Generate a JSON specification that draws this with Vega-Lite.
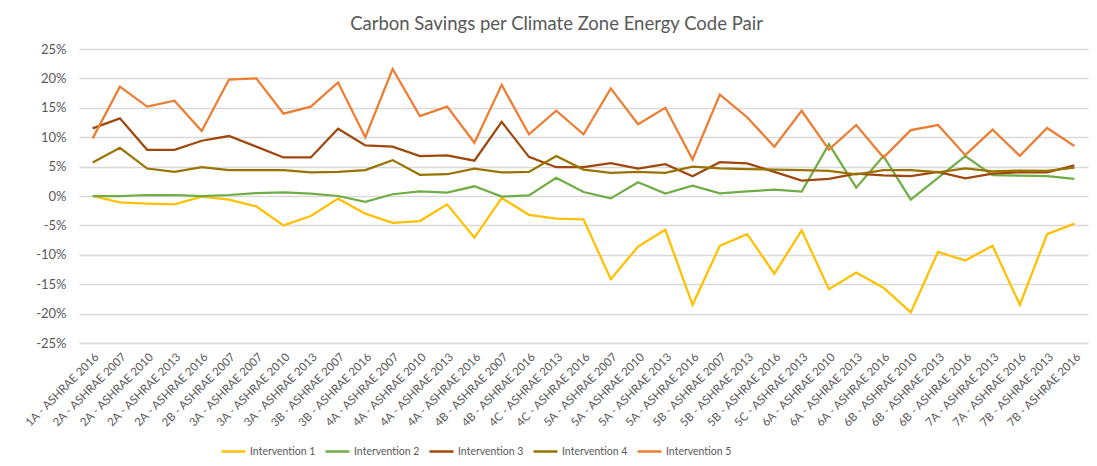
{
  "$schema": "https://vega.github.io/schema/vega-lite/v6.json",
  "width": 1009,
  "height": 294,
  "autosize": {"type": "none"},
  "padding": {"left": 79, "top": 49, "right": 9, "bottom": 123},
  "background": "white",
  "config": {"view": {"stroke": null}, "font": "Lato"},
  "title": {"text": "Carbon Savings per Climate Zone Energy Code Pair", "font": "Lato", "fontSize": 18.5, "fontWeight": "normal", "color": "#595959", "offset": 10, "dx": -27, "anchor": "middle"},
  "data": {"values": [
{"pair":"1A - ASHRAE 2016","series":"Intervention 1","value":0},
{"pair":"2A - ASHRAE 2007","series":"Intervention 1","value":-0.0108},
{"pair":"2A - ASHRAE 2010","series":"Intervention 1","value":-0.013},
{"pair":"2A - ASHRAE 2013","series":"Intervention 1","value":-0.0142},
{"pair":"2A - ASHRAE 2016","series":"Intervention 1","value":-0.001},
{"pair":"2B - ASHRAE 2007","series":"Intervention 1","value":-0.0063},
{"pair":"3A - ASHRAE 2007","series":"Intervention 1","value":-0.0176},
{"pair":"3A - ASHRAE 2010","series":"Intervention 1","value":-0.05},
{"pair":"3A - ASHRAE 2013","series":"Intervention 1","value":-0.034},
{"pair":"3B - ASHRAE 2007","series":"Intervention 1","value":-0.0045},
{"pair":"3B - ASHRAE 2016","series":"Intervention 1","value":-0.03},
{"pair":"4A - ASHRAE 2007","series":"Intervention 1","value":-0.0455},
{"pair":"4A - ASHRAE 2010","series":"Intervention 1","value":-0.0426},
{"pair":"4A - ASHRAE 2013","series":"Intervention 1","value":-0.0142},
{"pair":"4A - ASHRAE 2016","series":"Intervention 1","value":-0.071},
{"pair":"4B - ASHRAE 2007","series":"Intervention 1","value":-0.0034},
{"pair":"4B - ASHRAE 2016","series":"Intervention 1","value":-0.032},
{"pair":"4C - ASHRAE 2013","series":"Intervention 1","value":-0.0386},
{"pair":"4C - ASHRAE 2016","series":"Intervention 1","value":-0.0398},
{"pair":"5A - ASHRAE 2007","series":"Intervention 1","value":-0.1415},
{"pair":"5A - ASHRAE 2010","series":"Intervention 1","value":-0.086},
{"pair":"5A - ASHRAE 2013","series":"Intervention 1","value":-0.0574},
{"pair":"5A - ASHRAE 2016","series":"Intervention 1","value":-0.185},
{"pair":"5B - ASHRAE 2007","series":"Intervention 1","value":-0.0847},
{"pair":"5B - ASHRAE 2013","series":"Intervention 1","value":-0.065},
{"pair":"5B - ASHRAE 2016","series":"Intervention 1","value":-0.132},
{"pair":"5C - ASHRAE 2013","series":"Intervention 1","value":-0.0585},
{"pair":"6A - ASHRAE 2010","series":"Intervention 1","value":-0.1585},
{"pair":"6A - ASHRAE 2013","series":"Intervention 1","value":-0.13},
{"pair":"6A - ASHRAE 2016","series":"Intervention 1","value":-0.156},
{"pair":"6B - ASHRAE 2010","series":"Intervention 1","value":-0.198},
{"pair":"6B - ASHRAE 2013","series":"Intervention 1","value":-0.095},
{"pair":"6B - ASHRAE 2016","series":"Intervention 1","value":-0.1097},
{"pair":"7A - ASHRAE 2013","series":"Intervention 1","value":-0.0847},
{"pair":"7A - ASHRAE 2016","series":"Intervention 1","value":-0.185},
{"pair":"7B - ASHRAE 2013","series":"Intervention 1","value":-0.065},
{"pair":"7B - ASHRAE 2016","series":"Intervention 1","value":-0.047},
{"pair":"1A - ASHRAE 2016","series":"Intervention 2","value":0},
{"pair":"2A - ASHRAE 2007","series":"Intervention 2","value":0},
{"pair":"2A - ASHRAE 2010","series":"Intervention 2","value":0.0017},
{"pair":"2A - ASHRAE 2013","series":"Intervention 2","value":0.0017},
{"pair":"2A - ASHRAE 2016","series":"Intervention 2","value":0},
{"pair":"2B - ASHRAE 2007","series":"Intervention 2","value":0.0017},
{"pair":"3A - ASHRAE 2007","series":"Intervention 2","value":0.005},
{"pair":"3A - ASHRAE 2010","series":"Intervention 2","value":0.0063},
{"pair":"3A - ASHRAE 2013","series":"Intervention 2","value":0.004},
{"pair":"3B - ASHRAE 2007","series":"Intervention 2","value":0},
{"pair":"3B - ASHRAE 2016","series":"Intervention 2","value":-0.01},
{"pair":"4A - ASHRAE 2007","series":"Intervention 2","value":0.003},
{"pair":"4A - ASHRAE 2010","series":"Intervention 2","value":0.008},
{"pair":"4A - ASHRAE 2013","series":"Intervention 2","value":0.0057},
{"pair":"4A - ASHRAE 2016","series":"Intervention 2","value":0.0165},
{"pair":"4B - ASHRAE 2007","series":"Intervention 2","value":-0.001},
{"pair":"4B - ASHRAE 2016","series":"Intervention 2","value":0.001},
{"pair":"4C - ASHRAE 2013","series":"Intervention 2","value":0.031},
{"pair":"4C - ASHRAE 2016","series":"Intervention 2","value":0.0068},
{"pair":"5A - ASHRAE 2007","series":"Intervention 2","value":-0.004},
{"pair":"5A - ASHRAE 2010","series":"Intervention 2","value":0.0233},
{"pair":"5A - ASHRAE 2013","series":"Intervention 2","value":0.004},
{"pair":"5A - ASHRAE 2016","series":"Intervention 2","value":0.0177},
{"pair":"5B - ASHRAE 2007","series":"Intervention 2","value":0.0046},
{"pair":"5B - ASHRAE 2013","series":"Intervention 2","value":0.008},
{"pair":"5B - ASHRAE 2016","series":"Intervention 2","value":0.0108},
{"pair":"5C - ASHRAE 2013","series":"Intervention 2","value":0.0074},
{"pair":"6A - ASHRAE 2010","series":"Intervention 2","value":0.0883},
{"pair":"6A - ASHRAE 2013","series":"Intervention 2","value":0.0142},
{"pair":"6A - ASHRAE 2016","series":"Intervention 2","value":0.0678},
{"pair":"6B - ASHRAE 2010","series":"Intervention 2","value":-0.0063},
{"pair":"6B - ASHRAE 2013","series":"Intervention 2","value":0.031},
{"pair":"6B - ASHRAE 2016","series":"Intervention 2","value":0.0678},
{"pair":"7A - ASHRAE 2013","series":"Intervention 2","value":0.0353},
{"pair":"7A - ASHRAE 2016","series":"Intervention 2","value":0.0347},
{"pair":"7B - ASHRAE 2013","series":"Intervention 2","value":0.0336},
{"pair":"7B - ASHRAE 2016","series":"Intervention 2","value":0.029},
{"pair":"1A - ASHRAE 2016","series":"Intervention 3","value":0.115},
{"pair":"2A - ASHRAE 2007","series":"Intervention 3","value":0.132},
{"pair":"2A - ASHRAE 2010","series":"Intervention 3","value":0.0786},
{"pair":"2A - ASHRAE 2013","series":"Intervention 3","value":0.0786},
{"pair":"2A - ASHRAE 2016","series":"Intervention 3","value":0.094},
{"pair":"2B - ASHRAE 2007","series":"Intervention 3","value":0.102},
{"pair":"3A - ASHRAE 2007","series":"Intervention 3","value":0.084},
{"pair":"3A - ASHRAE 2010","series":"Intervention 3","value":0.0655},
{"pair":"3A - ASHRAE 2013","series":"Intervention 3","value":0.0655},
{"pair":"3B - ASHRAE 2007","series":"Intervention 3","value":0.1145},
{"pair":"3B - ASHRAE 2016","series":"Intervention 3","value":0.086},
{"pair":"4A - ASHRAE 2007","series":"Intervention 3","value":0.084},
{"pair":"4A - ASHRAE 2010","series":"Intervention 3","value":0.068},
{"pair":"4A - ASHRAE 2013","series":"Intervention 3","value":0.069},
{"pair":"4A - ASHRAE 2016","series":"Intervention 3","value":0.06},
{"pair":"4B - ASHRAE 2007","series":"Intervention 3","value":0.126},
{"pair":"4B - ASHRAE 2016","series":"Intervention 3","value":0.0666},
{"pair":"4C - ASHRAE 2013","series":"Intervention 3","value":0.049},
{"pair":"4C - ASHRAE 2016","series":"Intervention 3","value":0.049},
{"pair":"5A - ASHRAE 2007","series":"Intervention 3","value":0.056},
{"pair":"5A - ASHRAE 2010","series":"Intervention 3","value":0.0467},
{"pair":"5A - ASHRAE 2013","series":"Intervention 3","value":0.054},
{"pair":"5A - ASHRAE 2016","series":"Intervention 3","value":0.0336},
{"pair":"5B - ASHRAE 2007","series":"Intervention 3","value":0.0575},
{"pair":"5B - ASHRAE 2013","series":"Intervention 3","value":0.0555},
{"pair":"5B - ASHRAE 2016","series":"Intervention 3","value":0.041},
{"pair":"5C - ASHRAE 2013","series":"Intervention 3","value":0.0262},
{"pair":"6A - ASHRAE 2010","series":"Intervention 3","value":0.029},
{"pair":"6A - ASHRAE 2013","series":"Intervention 3","value":0.038},
{"pair":"6A - ASHRAE 2016","series":"Intervention 3","value":0.035},
{"pair":"6B - ASHRAE 2010","series":"Intervention 3","value":0.034},
{"pair":"6B - ASHRAE 2013","series":"Intervention 3","value":0.041},
{"pair":"6B - ASHRAE 2016","series":"Intervention 3","value":0.03},
{"pair":"7A - ASHRAE 2013","series":"Intervention 3","value":0.038},
{"pair":"7A - ASHRAE 2016","series":"Intervention 3","value":0.0404},
{"pair":"7B - ASHRAE 2013","series":"Intervention 3","value":0.04},
{"pair":"7B - ASHRAE 2016","series":"Intervention 3","value":0.052},
{"pair":"1A - ASHRAE 2016","series":"Intervention 4","value":0.057},
{"pair":"2A - ASHRAE 2007","series":"Intervention 4","value":0.082},
{"pair":"2A - ASHRAE 2010","series":"Intervention 4","value":0.0467},
{"pair":"2A - ASHRAE 2013","series":"Intervention 4","value":0.041},
{"pair":"2A - ASHRAE 2016","series":"Intervention 4","value":0.049},
{"pair":"2B - ASHRAE 2007","series":"Intervention 4","value":0.044},
{"pair":"3A - ASHRAE 2007","series":"Intervention 4","value":0.044},
{"pair":"3A - ASHRAE 2010","series":"Intervention 4","value":0.044},
{"pair":"3A - ASHRAE 2013","series":"Intervention 4","value":0.04},
{"pair":"3B - ASHRAE 2007","series":"Intervention 4","value":0.041},
{"pair":"3B - ASHRAE 2016","series":"Intervention 4","value":0.044},
{"pair":"4A - ASHRAE 2007","series":"Intervention 4","value":0.061},
{"pair":"4A - ASHRAE 2010","series":"Intervention 4","value":0.036},
{"pair":"4A - ASHRAE 2013","series":"Intervention 4","value":0.037},
{"pair":"4A - ASHRAE 2016","series":"Intervention 4","value":0.0467},
{"pair":"4B - ASHRAE 2007","series":"Intervention 4","value":0.04},
{"pair":"4B - ASHRAE 2016","series":"Intervention 4","value":0.041},
{"pair":"4C - ASHRAE 2013","series":"Intervention 4","value":0.068},
{"pair":"4C - ASHRAE 2016","series":"Intervention 4","value":0.045},
{"pair":"5A - ASHRAE 2007","series":"Intervention 4","value":0.0393},
{"pair":"5A - ASHRAE 2010","series":"Intervention 4","value":0.041},
{"pair":"5A - ASHRAE 2013","series":"Intervention 4","value":0.0393},
{"pair":"5A - ASHRAE 2016","series":"Intervention 4","value":0.05},
{"pair":"5B - ASHRAE 2007","series":"Intervention 4","value":0.047},
{"pair":"5B - ASHRAE 2013","series":"Intervention 4","value":0.0458},
{"pair":"5B - ASHRAE 2016","series":"Intervention 4","value":0.045},
{"pair":"5C - ASHRAE 2013","series":"Intervention 4","value":0.044},
{"pair":"6A - ASHRAE 2010","series":"Intervention 4","value":0.0427},
{"pair":"6A - ASHRAE 2013","series":"Intervention 4","value":0.037},
{"pair":"6A - ASHRAE 2016","series":"Intervention 4","value":0.044},
{"pair":"6B - ASHRAE 2010","series":"Intervention 4","value":0.044},
{"pair":"6B - ASHRAE 2013","series":"Intervention 4","value":0.0404},
{"pair":"6B - ASHRAE 2016","series":"Intervention 4","value":0.047},
{"pair":"7A - ASHRAE 2013","series":"Intervention 4","value":0.042},
{"pair":"7A - ASHRAE 2016","series":"Intervention 4","value":0.0433},
{"pair":"7B - ASHRAE 2013","series":"Intervention 4","value":0.0427},
{"pair":"7B - ASHRAE 2016","series":"Intervention 4","value":0.0484},
{"pair":"1A - ASHRAE 2016","series":"Intervention 5","value":0.098},
{"pair":"2A - ASHRAE 2007","series":"Intervention 5","value":0.186},
{"pair":"2A - ASHRAE 2010","series":"Intervention 5","value":0.152},
{"pair":"2A - ASHRAE 2013","series":"Intervention 5","value":0.162},
{"pair":"2A - ASHRAE 2016","series":"Intervention 5","value":0.1105},
{"pair":"2B - ASHRAE 2007","series":"Intervention 5","value":0.198},
{"pair":"3A - ASHRAE 2007","series":"Intervention 5","value":0.2},
{"pair":"3A - ASHRAE 2010","series":"Intervention 5","value":0.14},
{"pair":"3A - ASHRAE 2013","series":"Intervention 5","value":0.152},
{"pair":"3B - ASHRAE 2007","series":"Intervention 5","value":0.193},
{"pair":"3B - ASHRAE 2016","series":"Intervention 5","value":0.1},
{"pair":"4A - ASHRAE 2007","series":"Intervention 5","value":0.216},
{"pair":"4A - ASHRAE 2010","series":"Intervention 5","value":0.136},
{"pair":"4A - ASHRAE 2013","series":"Intervention 5","value":0.152},
{"pair":"4A - ASHRAE 2016","series":"Intervention 5","value":0.0905},
{"pair":"4B - ASHRAE 2007","series":"Intervention 5","value":0.189},
{"pair":"4B - ASHRAE 2016","series":"Intervention 5","value":0.105},
{"pair":"4C - ASHRAE 2013","series":"Intervention 5","value":0.145},
{"pair":"4C - ASHRAE 2016","series":"Intervention 5","value":0.105},
{"pair":"5A - ASHRAE 2007","series":"Intervention 5","value":0.183},
{"pair":"5A - ASHRAE 2010","series":"Intervention 5","value":0.122},
{"pair":"5A - ASHRAE 2013","series":"Intervention 5","value":0.15},
{"pair":"5A - ASHRAE 2016","series":"Intervention 5","value":0.062},
{"pair":"5B - ASHRAE 2007","series":"Intervention 5","value":0.1725},
{"pair":"5B - ASHRAE 2013","series":"Intervention 5","value":0.134},
{"pair":"5B - ASHRAE 2016","series":"Intervention 5","value":0.0837},
{"pair":"5C - ASHRAE 2013","series":"Intervention 5","value":0.145},
{"pair":"6A - ASHRAE 2010","series":"Intervention 5","value":0.079},
{"pair":"6A - ASHRAE 2013","series":"Intervention 5","value":0.1207},
{"pair":"6A - ASHRAE 2016","series":"Intervention 5","value":0.0655},
{"pair":"6B - ASHRAE 2010","series":"Intervention 5","value":0.112},
{"pair":"6B - ASHRAE 2013","series":"Intervention 5","value":0.1207},
{"pair":"6B - ASHRAE 2016","series":"Intervention 5","value":0.0695},
{"pair":"7A - ASHRAE 2013","series":"Intervention 5","value":0.113},
{"pair":"7A - ASHRAE 2016","series":"Intervention 5","value":0.0683},
{"pair":"7B - ASHRAE 2013","series":"Intervention 5","value":0.1156},
{"pair":"7B - ASHRAE 2016","series":"Intervention 5","value":0.085}
  ]},
  "mark": {"type": "line", "strokeWidth": 2.25},
  "encoding": {
    "x": {"field": "pair", "type": "nominal", "sort": null,
      "axis": {"title": null, "labelAngle": -45, "labelFontSize": 11.5, "labelColor": "#595959", "labelFont": "Lato", "domain": false, "ticks": false, "grid": false, "labelPadding": 8, "labelLimit": 0}},
    "y": {"field": "value", "type": "quantitative", "scale": {"domain": [-0.25, 0.25], "nice": false},
      "axis": {"title": null, "values": [-0.25, -0.2, -0.15, -0.1, -0.05, 0, 0.05, 0.1, 0.15, 0.2, 0.25], "labelExpr": "round(datum.value*100) + '%'", "domain": false, "ticks": false, "gridColor": "#d9d9d9", "gridWidth": 1.3, "labelFontSize": 13, "labelFont": "Lato", "labelColor": "#595959", "labelPadding": 13}},
    "color": {"field": "series", "type": "nominal",
      "scale": {"domain": ["Intervention 1", "Intervention 2", "Intervention 3", "Intervention 4", "Intervention 5"], "range": ["#FFC000", "#70AD47", "#9E480E", "#997300", "#ED7D31"]},
      "legend": {"title": null, "orient": "none", "legendX": 141, "legendY": 389, "direction": "horizontal", "symbolType": "stroke", "symbolSize": 576, "symbolStrokeWidth": 2.5, "labelFontSize": 10.5, "labelFont": "Lato", "labelColor": "#595959", "labelOffset": 3, "columnPadding": 4}}
  }
}
